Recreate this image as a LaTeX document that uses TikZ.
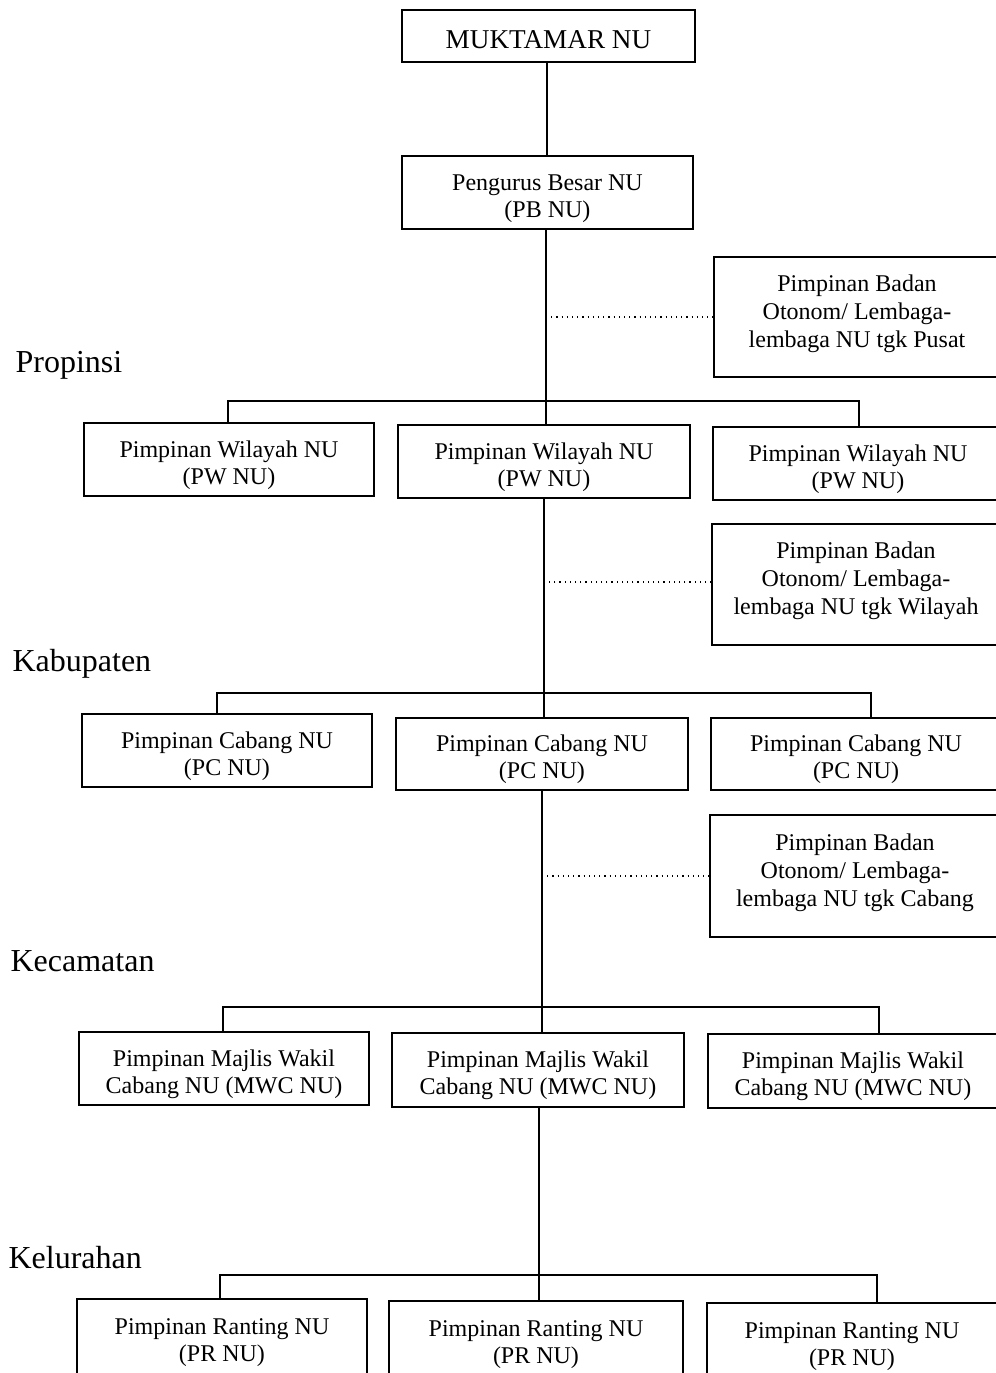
\documentclass[tikz,border=0pt]{standalone}
\usepackage{fontspec}
\setmainfont{Liberation Serif}
\newcommand\topstrut{\rule{0pt}{14pt}}
\begin{document}
\begin{tikzpicture}[x=0.5pt, y=-0.5pt, line width=0.6pt,
  unit/.style={draw, align=center, inner sep=0pt, minimum width=145pt,
    minimum height=36.5pt, font=\fontsize{12}{13.5}\selectfont},
  badan/.style={unit, minimum width=144pt, minimum height=60.5pt,
    font=\fontsize{12}{14}\selectfont},
  level/.style={anchor=base west, inner sep=0pt, font=\fontsize{16}{18}\selectfont}]

  \useasboundingbox (0,0) rectangle (996,1373);

  % pusat
  \node[unit, minimum width=146.5pt, minimum height=26pt,
    font=\fontsize{13.6}{15}\selectfont] (muk) at (548.5,36) {\rule{0pt}{12.8pt}MUKTAMAR NU};
  \node[unit, minimum width=145.5pt] (pb) at (547.5,192.5) {\topstrut Pengurus Besar NU\\(PB NU)};
  \node[badan, minimum width=143pt, minimum height=60pt] (otPusat) at (857,317)
    {Pimpinan Badan\\Otonom/ Lembaga-\\lembaga NU tgk Pusat\rule[-6pt]{0pt}{0pt}};

  % wilayah
  \node[level] (lvProp) at (15,372) {Propinsi};
  \node[unit] (pw1) at (229,459.5) {\topstrut Pimpinan Wilayah NU\\(PW NU)};
  \node[unit, minimum width=146pt] (pw2) at (544,461.5) {\topstrut Pimpinan Wilayah NU\\(PW NU)};
  \node[unit] (pw3) at (858,463.5) {\topstrut Pimpinan Wilayah NU\\(PW NU)};
  \node[badan] (otWil) at (856,584.5)
    {Pimpinan Badan\\Otonom/ Lembaga-\\lembaga NU tgk Wilayah\rule[-6pt]{0pt}{0pt}};

  % cabang
  \node[level] (lvKab) at (12,671) {Kabupaten};
  \node[unit] (pc1) at (227,750.5) {\topstrut Pimpinan Cabang NU\\(PC NU)};
  \node[unit, minimum width=146pt, minimum height=36pt] (pc2) at (542,754) {\topstrut Pimpinan Cabang NU\\(PC NU)};
  \node[unit, minimum height=36pt] (pc3) at (856,754) {\topstrut Pimpinan Cabang NU\\(PC NU)};
  \node[badan, minimum width=145pt, minimum height=61pt] (otCab) at (855,876)
    {Pimpinan Badan\\Otonom/ Lembaga-\\lembaga NU tgk Cabang\rule[-6pt]{0pt}{0pt}};

  % majlis wakil cabang
  \node[level] (lvKec) at (10,971) {Kecamatan};
  \node[unit] (mwc1) at (224,1068.5) {\topstrut Pimpinan Majlis Wakil\\Cabang NU (MWC NU)};
  \node[unit, minimum width=146pt, minimum height=37pt] (mwc2) at (538,1070) {\topstrut Pimpinan Majlis Wakil\\Cabang NU (MWC NU)};
  \node[unit, minimum height=37pt] (mwc3) at (853,1071) {\topstrut Pimpinan Majlis Wakil\\Cabang NU (MWC NU)};

  % ranting
  \node[level] (lvKel) at (8,1268) {Kelurahan};
  \node[unit, minimum height=38pt] (pr1) at (222,1337) {\topstrut Pimpinan Ranting NU\\(PR NU)};
  \node[unit, minimum width=147pt, minimum height=38pt] (pr2) at (536,1339) {\topstrut Pimpinan Ranting NU\\(PR NU)};
  \node[unit, minimum height=38pt] (pr3) at (852,1341) {\topstrut Pimpinan Ranting NU\\(PR NU)};

  % bar ends
  \coordinate (b1l) at (228,401);  \coordinate (b1r) at (859,401);
  \coordinate (b2l) at (217,693);  \coordinate (b2r) at (871,693);
  \coordinate (b3l) at (223,1007); \coordinate (b3r) at (879,1007);
  \coordinate (b4l) at (220,1275); \coordinate (b4r) at (877,1275);

  % trunk
  \draw (muk.south -| 547,0) -- (pb.north -| 547,0);
  \draw (pb.south -| 546,0) -- (pw2.north -| 546,0);
  \draw (pw2.south -| 544,0) -- (pc2.north -| 544,0);
  \draw (pc2.south -| 542,0) -- (mwc2.north -| 542,0);
  \draw (mwc2.south -| 539,0) -- (pr2.north -| 539,0);

  % bars
  \draw (pw1.north -| b1l) -- (b1l) -- (b1r) -- (pw3.north -| b1r);
  \draw (pc1.north -| b2l) -- (b2l) -- (b2r) -- (pc3.north -| b2r);
  \draw (mwc1.north -| b3l) -- (b3l) -- (b3r) -- (mwc3.north -| b3r);
  \draw (pr1.north -| b4l) -- (b4l) -- (b4r) -- (pr3.north -| b4r);

  % badan otonom
  \draw[dotted] (otPusat.west -| 546,0) -- (otPusat.west);
  \draw[dotted] (otWil.west |- 0,582) -| (544,582);
  \draw[dotted] (otCab.west -| 542,0) -- (otCab.west);

\end{tikzpicture}
\end{document}
